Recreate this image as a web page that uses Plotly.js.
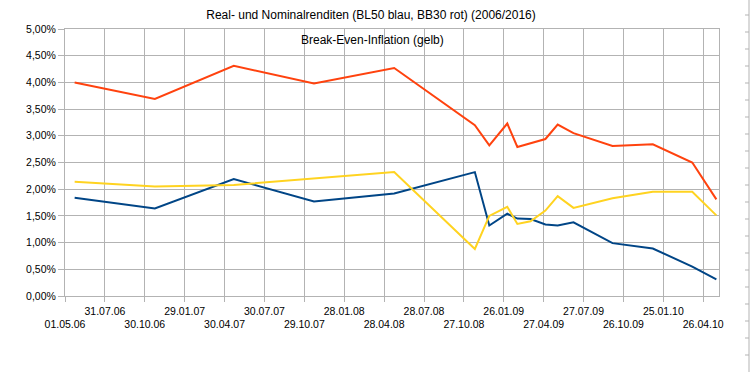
<!DOCTYPE html>
<html>
<head>
<meta charset="utf-8">
<script src="https://cdn.plot.ly/plotly-3.0.1.min.js"></script>
<style>
  html, body { margin: 0; padding: 0; background: #fff; }
  #chart { width: 751px; height: 372px; }
</style>
</head>
<body>
<div id="chart"></div>
<script>
// Observation dates
const dates = [
  '2006-05-23', '2006-11-22', '2007-05-21', '2007-11-20', '2008-05-21',
  '2008-11-21', '2008-12-24', '2009-02-03', '2009-02-26', '2009-03-28',
  '2009-05-01', '2009-05-29', '2009-07-04', '2009-10-01', '2010-01-01',
  '2010-04-01', '2010-05-26'
];
// Nominal yield BB30 (red), in percent
const nominal = [4.00, 3.69, 4.31, 3.98, 4.27, 3.20, 2.82, 3.23, 2.79, 2.86,
                 2.94, 3.21, 3.05, 2.81, 2.84, 2.50, 1.81];
// Real yield BL50 (blue), in percent
const real = [1.84, 1.64, 2.19, 1.77, 1.92, 2.32, 1.32, 1.54, 1.45, 1.44,
              1.34, 1.32, 1.38, 0.99, 0.89, 0.55, 0.31];
// Break-even inflation (yellow), in percent
const breakeven = [2.14, 2.05, 2.08, 2.20, 2.32, 0.88, 1.50, 1.67, 1.35, 1.40,
                   1.60, 1.87, 1.65, 1.83, 1.95, 1.95, 1.51];

// x-axis tick dates and labels
const tickDates = [
  '2006-05-01', '2006-07-31', '2006-10-30', '2007-01-29', '2007-04-30',
  '2007-07-30', '2007-10-29', '2008-01-28', '2008-04-28', '2008-07-28',
  '2008-10-27', '2009-01-26', '2009-04-27', '2009-07-27', '2009-10-26',
  '2010-01-25', '2010-04-26'
];
const tickLabels = [
  '01.05.06', '31.07.06', '30.10.06', '29.01.07', '30.04.07',
  '30.07.07', '29.10.07', '28.01.08', '28.04.08', '28.07.08',
  '27.10.08', '26.01.09', '27.04.09', '27.07.09', '26.10.09',
  '25.01.10', '26.04.10'
];

const FONT = 'Liberation Sans, Arial, sans-serif';
const GRID = '#b3b3b3';
const pct = a => a.map(v => v / 100);

const traces = [
  { name: 'BB30', x: dates, y: pct(nominal), mode: 'lines',
    line: { color: '#ff420e', width: 2 } },
  { name: 'BL50', x: dates, y: pct(real), mode: 'lines',
    line: { color: '#004586', width: 2 } },
  { name: 'Break-Even', x: dates, y: pct(breakeven), mode: 'lines',
    line: { color: '#ffd320', width: 2 } }
];

// staggered tick labels: even index on lower row, odd on upper row
const ticktext = tickLabels.map((t, i) => i % 2 === 0 ? '&nbsp;<br>' + t : t);

// decorative ruler on the right side of the image
const shapes = [
  { type: 'line', xref: 'paper', yref: 'paper', x0: (749 - 65) / 654, x1: (749 - 65) / 654,
    y0: (296 - 0) / 267, y1: (296 - 372) / 267, line: { color: '#b3b3b3', width: 1 } }
];
for (let py = 15; py < 372; py += 17) {
  shapes.push({ type: 'line', xref: 'paper', yref: 'paper',
    x0: (745 - 65) / 654, x1: (749 - 65) / 654,
    y0: (296 - py) / 267, y1: (296 - py) / 267,
    line: { color: '#b3b3b3', width: 1 } });
}

const layout = {
  width: 751, height: 372,
  margin: { l: 65, r: 32, t: 29, b: 76 },
  paper_bgcolor: '#ffffff', plot_bgcolor: '#ffffff',
  showlegend: false,
  separators: ',.',
  font: { family: FONT, size: 10.5, color: '#000000' },
  title: {
    text: 'Real- und Nominalrenditen (BL50 blau, BB30 rot) (2006/2016)',
    font: { family: FONT, size: 12, color: '#000000' },
    xref: 'container', x: 371 / 751, xanchor: 'center',
    yref: 'container', y: 1 - 15 / 372, yanchor: 'middle'
  },
  annotations: [{
    text: 'Break-Even-Inflation (gelb)', showarrow: false,
    xref: 'paper', yref: 'paper', x: (372 - 65) / 654, y: (296 - 40) / 267,
    xanchor: 'center', yanchor: 'middle',
    font: { family: FONT, size: 12, color: '#000000' }
  }],
  xaxis: {
    type: 'date',
    range: ['2006-05-01', '2010-06-01'],
    tickmode: 'array', tickvals: tickDates, ticktext: ticktext,
    tickangle: 0,
    showgrid: true, gridcolor: GRID, gridwidth: 1,
    showline: true, linecolor: GRID, linewidth: 1, mirror: true,
    ticks: 'outside', ticklen: 5, tickcolor: GRID,
    tickfont: { family: FONT, size: 10.5, color: '#000000' },
    zeroline: false, fixedrange: true
  },
  yaxis: {
    range: [0, 0.05], dtick: 0.005, tick0: 0,
    tickformat: '.2%',
    showgrid: true, gridcolor: GRID, gridwidth: 1,
    showline: true, linecolor: GRID, linewidth: 1, mirror: true,
    ticks: 'outside', ticklen: 6, tickcolor: GRID,
    tickfont: { family: FONT, size: 10.5, color: '#000000' },
    zeroline: false, fixedrange: true
  },
  shapes: shapes
};

Plotly.newPlot('chart', traces, layout, { staticPlot: true, displayModeBar: false });
</script>
</body>
</html>
